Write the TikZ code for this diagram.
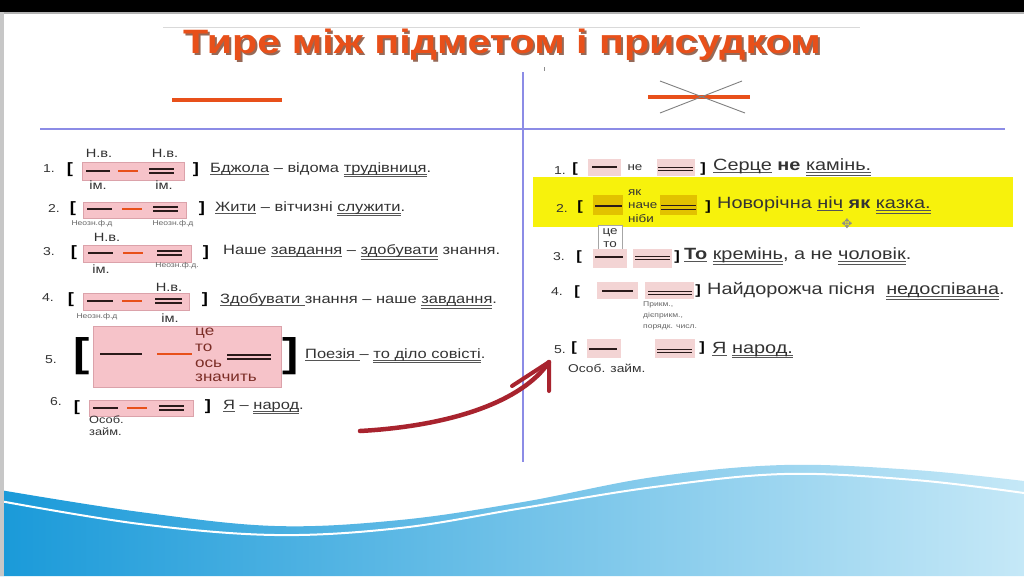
\documentclass[tikz,border=0pt]{standalone}
\usepackage{fontspec}
\setmainfont{Liberation Sans}[FakeStretch=1.22]
\newfontfamily\symfont{DejaVu Sans}
\definecolor{titlec}{HTML}{E8501A}
\definecolor{shadc}{HTML}{6A2A10}
\definecolor{orng}{HTML}{E8501A}
\definecolor{lineblk}{HTML}{2A1A1A}
\definecolor{txtc}{HTML}{333333}
\definecolor{ulc}{HTML}{555555}
\definecolor{divc}{HTML}{8C8CE6}
\definecolor{pinkf}{HTML}{F6C3C9}
\definecolor{pinkd}{HTML}{DBA2AA}
\definecolor{pinkr}{HTML}{F3D4D4}
\definecolor{yelc}{HTML}{F7F20C}
\definecolor{goldc}{HTML}{E2C200}
\definecolor{arrc}{HTML}{A8232E}
\definecolor{stackc}{HTML}{7B2D26}
\definecolor{wavel}{HTML}{1A9AD9}
\definecolor{waver}{HTML}{C5E8F7}
\newsavebox\ulbox
\newcommand\sul[1]{\sbox\ulbox{#1}\rlap{\color{ulc}\rule[-2.8pt]{\wd\ulbox}{0.9pt}}\usebox\ulbox}
\newcommand\dul[1]{\sbox\ulbox{#1}\rlap{\color{ulc}\rule[-2.6pt]{\wd\ulbox}{0.8pt}}\rlap{\color{ulc}\rule[-4.8pt]{\wd\ulbox}{0.8pt}}\usebox\ulbox}
\tikzset{
  sentL/.style={anchor=west, inner sep=0, text=txtc, font=\fontsize{13.5}{16}\selectfont},
  sentR/.style={anchor=west, inner sep=0, text=txtc, font=\fontsize{16.3}{19}\selectfont},
  numL/.style={inner sep=0, text=txtc, font=\fontsize{11.5}{13}\selectfont},
  brk/.style={inner sep=0, text=black, font=\bfseries\fontsize{15}{15}\selectfont},
  brkR/.style={inner sep=0, text=black, font=\bfseries\fontsize{13.5}{14}\selectfont},
  brkB/.style={inner sep=0, text=black, font=\bfseries\fontsize{40}{40}\selectfont},
  lab/.style={inner sep=0, text=txtc, font=\fontsize{12}{13}\selectfont},
  tinylab/.style={inner sep=0, text=black!60, font=\fontsize{7}{8}\selectfont},
  smlab/.style={inner sep=0, text=txtc, font=\fontsize{10.5}{12}\selectfont},
  stack/.style={anchor=west, inner sep=0, text=stackc, font=\fontsize{14}{15}\selectfont},
  stackR/.style={anchor=west, inner sep=0, text=txtc, font=\fontsize{11}{12}\selectfont},
  pinkbox/.style={fill=pinkf, draw=pinkd, line width=0.6pt},
  pinkboxR/.style={fill=pinkr},
  goldbox/.style={fill=goldc},
  subjl/.style={line width=2.2pt, draw=lineblk},
  dashl/.style={line width=2.2pt, draw=orng},
  predl/.style={line width=1.6pt, draw=lineblk},
  predlR/.style={line width=1.3pt, draw=lineblk},
  divl/.style={line width=1.1pt, draw=divc},
}
\newcommand\predline[3]{\draw[predl] (#1,#3-1.8) -- (#2,#3-1.8) (#1,#3+1.8) -- (#2,#3+1.8);}
\newcommand\predlineR[3]{\draw[predlR] (#1,#3-1.8) -- (#2,#3-1.8) (#1,#3+1.8) -- (#2,#3+1.8);}
\begin{document}
\begin{tikzpicture}[x=1pt,y=-1pt]
\useasboundingbox (0,0) rectangle (1024,576);
\fill[white] (0,0) rectangle (1024,576);
% wave
\shade[left color=wavel, right color=waver]
  plot[smooth, tension=0.6] coordinates {(0,490) (140,512) (275,526) (400,520) (523,502) (654,477) (784,465) (915,470) (1024,481)}
  -- (1024,576) -- (0,576) -- cycle;
\draw[white, line width=2pt]
  plot[smooth, tension=0.6] coordinates {(0,501) (140,524) (275,535) (400,528) (523,508) (654,487) (784,474) (915,480) (1024,493)};
% frame
\fill[black] (0,0) rectangle (1024,12);
\fill[black!30] (0,12) rectangle (1024,14);
\fill[black!22] (0,12) rectangle (4,576);
\draw[black!15, line width=1pt] (163,27) -- (860,27);
% title
\node[anchor=base, inner sep=0, text=shadc, opacity=0.7, font=\bfseries\fontsize{33.8}{36}\selectfont] at (504,55) {Тире між підметом і присудком};
\node[anchor=base, inner sep=0, text=titlec, font=\bfseries\fontsize{33.8}{36}\selectfont] (title) at (502,53) {Тире між підметом і присудком};
% header symbols
\draw[orng, line width=4pt] (172,100) -- (282,100);
\draw[orng, line width=4pt] (648,97) -- (750,97);
\draw[black!50, line width=0.9pt] (660,81) -- (745,113) (660,113) -- (742,81);
\draw[black!45, line width=0.8pt] (544,67) -- (544,71);
% dividers
\coordinate (vtop) at (523,72);
\coordinate (vbot) at (523,462);
\coordinate (hl) at (40,129);
\coordinate (hr) at (1005,129);
\draw[divl] (vtop) -- (vbot);
\draw[divl] (hl) -- (hr);

% ===== LEFT =====
% row 1
\node[numL] (l1n) at (49,169) {1.};
\node[brk] (l1a) at (70,170) {[};
\draw[pinkbox] (82,162) rectangle (184,180);
\draw[subjl] (86,171) -- (110,171);
\draw[dashl] (118,171) -- (138,171);
\predline{149}{174}{171}
\node[brk] (l1b) at (196,170) {]};
\node[lab] (l1h1) at (99,153) {Н.в.};
\node[lab] (l1h2) at (165,153) {Н.в.};
\node[lab] (l1i1) at (98,185) {ім.};
\node[lab] (l1i2) at (164,185) {ім.};
\node[sentL] (l1s) at (210,170) {\sul{Бджола} – відома \dul{трудівниця}.};
% row 2
\node[numL] (l2n) at (54,208) {2.};
\node[brk] (l2a) at (73,209) {[};
\draw[pinkbox] (83,202) rectangle (186,218);
\draw[subjl] (87,209) -- (112,209);
\draw[dashl] (122,209) -- (142,209);
\predline{153}{178}{209}
\node[brk] (l2b) at (202,209) {]};
\node[tinylab] (l2l1) at (92,224) {Неозн.ф.д};
\node[tinylab] (l2l2) at (173,224) {Неозн.ф.д};
\node[sentL] (l2s) at (215,209) {\sul{Жити} – вітчизні \dul{служити}.};
% row 3
\node[numL] (l3n) at (49,252) {3.};
\node[brk] (l3a) at (74,253) {[};
\draw[pinkbox] (83,245) rectangle (191,262);
\draw[subjl] (88,253) -- (113,253);
\draw[dashl] (123,253) -- (143,253);
\predline{157}{182}{253}
\node[brk] (l3b) at (206,253) {]};
\node[lab] (l3h) at (107,237) {Н.в.};
\node[lab] (l3i) at (101,269) {ім.};
\node[tinylab] (l3l) at (177,266) {Неозн.ф.д.};
\node[sentL] (l3s) at (223,252) {Наше \sul{завдання} – \dul{здобувати} знання.};
% row 4
\node[numL] (l4n) at (48,298) {4.};
\node[brk] (l4a) at (71,300) {[};
\draw[pinkbox] (83,293) rectangle (189,310);
\draw[subjl] (87,301) -- (113,301);
\draw[dashl] (122,301) -- (142,301);
\predline{155}{182}{301}
\node[brk] (l4b) at (205,300) {]};
\node[lab] (l4h) at (169,287) {Н.в.};
\node[tinylab] (l4l) at (97,317) {Неозн.ф.д};
\node[lab] (l4i) at (170,318) {ім.};
\node[sentL] (l4s) at (220,301) {\sul{Здобувати }знання – наше \dul{завдання}.};
% row 5
\node[numL] (l5n) at (51,360) {5.};
\draw[pinkbox] (93,326) rectangle (281,387);
\node[brkB] (l5a) at (82,356) {[};
\draw[subjl] (100,354) -- (142,354);
\draw[dashl] (157,354) -- (192,354);
\node[stack] (l5c1) at (195,333) {це};
\node[stack] (l5c2) at (195,348) {то};
\node[stack] (l5c3) at (195,364) {ось};
\node[stack] (l5c4) at (195,378) {значить};
\predline{227}{271}{357}
\node[brkB] (l5b) at (291,356) {]};
\node[sentL] (l5s) at (305,356) {\sul{Поезія }– \dul{то діло совісті}.};
% row 6
\node[numL] (l6n) at (56,402) {6.};
\node[brk] (l6a) at (77,408) {[};
\draw[pinkbox] (89,400) rectangle (193,416);
\draw[subjl] (93,408) -- (118,408);
\draw[dashl] (127,408) -- (147,408);
\predline{159}{184}{408}
\node[brk] (l6b) at (208,407) {]};
\node[smlab, anchor=west] (l6l1) at (89,420) {Особ.};
\node[smlab, anchor=west] (l6l2) at (89,432) {займ.};
\node[sentL] (l6s) at (223,407) {\sul{Я} – \dul{народ}.};

% ===== RIGHT =====
% row 2 band
\fill[yelc] (533,177) rectangle (1013,227);
% row 1
\node[numL] (r1n) at (560,171) {1.};
\node[brkR] (r1a) at (575,169) {[};
\fill[pinkboxR] (588,159) rectangle (621,176);
\draw[subjl, line width=1.5pt] (592,167) -- (617,167);
\node[stackR, anchor=center] (r1ne) at (635,168) {не};
\fill[pinkboxR] (657,159) rectangle (695,176);
\predlineR{658}{693}{169}
\node[brkR] (r1b) at (703,169) {]};
\node[sentR] (r1s) at (713,167) {\sul{Серце} \textbf{не} \dul{камінь.}};
% row 2
\node[numL] (r2n) at (562,208) {2.};
\node[brkR] (r2a) at (580,207) {[};
\fill[goldbox] (593,195) rectangle (623,215);
\draw[subjl, line width=1.5pt] (595,206) -- (622,206);
\node[stackR] (r2c1) at (628,193) {як};
\node[stackR] (r2c2) at (628,206) {наче};
\node[stackR] (r2c3) at (628,219) {ніби};
\fill[goldbox] (660,195) rectangle (697,215);
\predlineR{661}{696}{207.5}
\node[brkR] (r2b) at (708,207) {]};
\node[sentR] (r2s) at (717,205) {Новорічна \sul{ніч} \textbf{як} \dul{казка.}};
\node[inner sep=0, text=black!45, font=\symfont\fontsize{13}{13}\selectfont] (cursor) at (847,224) {✥};
% це/то box
\node[draw=black!35, fill=white, line width=0.6pt, minimum width=24pt, minimum height=25pt, inner sep=0] (r2box) at (610,237.5) {};
\node[stackR, anchor=center] (r2t1) at (610,233) {це};
\node[stackR, anchor=center] (r2t2) at (610,245) {то};
% row 3
\node[numL] (r3n) at (559,257) {3.};
\node[brkR] (r3a) at (579,257) {[};
\fill[pinkboxR] (593,249) rectangle (627,268);
\draw[subjl, line width=1.5pt] (595,257) -- (623,257);
\fill[pinkboxR] (633,249) rectangle (672,268);
\predlineR{635}{670}{258}
\node[brkR] (r3b) at (677,257) {]};
\node[sentR] (r3s) at (684,256) {\sul{\textbf{То}} \dul{кремінь}, а не \dul{чоловік}.};
% row 4
\node[numL] (r4n) at (557,292) {4.};
\node[brkR] (r4a) at (577,292) {[};
\fill[pinkboxR] (597,282) rectangle (638,299);
\draw[subjl, line width=1.5pt] (602,291) -- (633,291);
\fill[pinkboxR] (645,282) rectangle (694,299);
\predlineR{648}{692}{293}
\node[brkR] (r4b) at (698,291) {]};
\node[sentR] (r4s) at (707,291) {Найдорожча пісня\ \ \dul{недоспівана}.};
\node[tinylab, anchor=west] (r4l1) at (643,305) {Прикм.,};
\node[tinylab, anchor=west] (r4l2) at (643,316) {дієприкм.,};
\node[tinylab, anchor=west] (r4l3) at (643,327) {порядк. числ.};
% row 5
\node[numL] (r5n) at (560,350) {5.};
\node[brkR] (r5a) at (574,348) {[};
\fill[pinkboxR] (587,339) rectangle (621,358);
\draw[subjl, line width=1.5pt] (589,349) -- (617,349);
\fill[pinkboxR] (655,339) rectangle (695,358);
\predlineR{657}{692}{351}
\node[brkR] (r5b) at (702,348) {]};
\node[sentR] (r5s) at (712,350) {\sul{Я} \dul{народ.}};
\node[smlab, anchor=west, font=\fontsize{11.3}{12}\selectfont] (r5l) at (568,368) {Особ. займ.};

% arrow
\coordinate (arrS) at (360,431);
\coordinate (arrT) at (549,362);
\coordinate (barbL) at (512,386);
\coordinate (barbR) at (549,391);
\draw[arrc, line width=4.5pt, line cap=round] (arrS) .. controls (450,426) and (522,402) .. (arrT);
\draw[arrc, line width=4pt, line cap=round, line join=round] (barbL) -- (arrT) -- (barbR);
\end{tikzpicture}
\end{document}
